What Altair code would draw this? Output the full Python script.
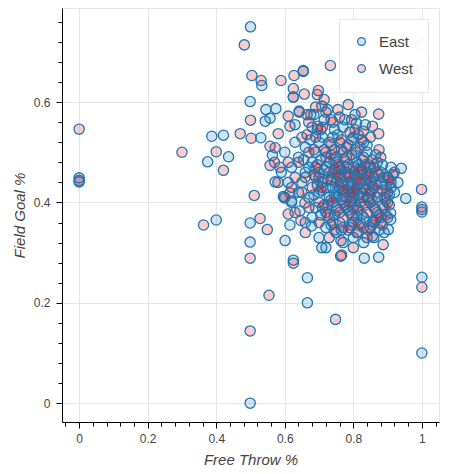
import altair as alt
import pandas as pd

# ---- data ----
east_ft = [0.50, 0.533, 0.654, 0.499, 0.545, 0.574, 0.543, 0.557, 0.642, 0.676,
           0.387, 0.421, 0.530, 0.564, 0.436, 0.375, 0.572, 0.599, 0.620, 0.400,
           0.499, 0.615, 0.644, 0.678, 0.499, 0.601, 0.708, 0.625, 0.666, 0.666,
           0.499, 1.0, 1.0, 0.832, 0.874, 0.809, 0.840, 0.940, 0.953, 0.909,
           0.909, 0.902, 0.814, 0.858, 0.0, 0.0, 1.0, 1.0, 0.630, 0.596,
           0.625,
           0.72, 0.74, 0.76, 0.78, 0.80, 0.82, 0.84, 0.86, 0.88, 0.73,
           0.75, 0.77, 0.79, 0.81, 0.83, 0.85, 0.87, 0.89, 0.71, 0.70,
           0.69, 0.68, 0.72, 0.75, 0.78, 0.81, 0.84, 0.87, 0.90, 0.91,
           0.90, 0.88, 0.85, 0.82, 0.79, 0.76, 0.73, 0.71, 0.74, 0.77,
           0.80, 0.83, 0.70, 0.68, 0.66, 0.67, 0.65, 0.69, 0.72, 0.75,
           0.80, 0.86, 0.89, 0.92, 0.93, 0.91, 0.76, 0.79, 0.82, 0.84,
           0.86, 0.78, 0.81, 0.74, 0.77, 0.80, 0.83, 0.85, 0.73, 0.70,
           0.88, 0.87, 0.81, 0.78, 0.75, 0.72, 0.69, 0.71, 0.64, 0.66,
           0.63, 0.62, 0.67, 0.64, 0.61, 0.68, 0.66, 0.70, 0.72, 0.77,
           0.83, 0.60, 0.59, 0.62,
           0.715, 0.735, 0.755, 0.775, 0.795, 0.815, 0.835, 0.855, 0.875, 0.895,
           0.725, 0.745, 0.765, 0.785, 0.805, 0.825, 0.845, 0.865, 0.885, 0.905,
           0.745, 0.765, 0.785, 0.805, 0.825, 0.845, 0.865, 0.885, 0.735, 0.755,
           0.795, 0.815, 0.705, 0.695, 0.685, 0.705, 0.735, 0.765, 0.795, 0.855,
           0.875, 0.895, 0.915, 0.805, 0.785, 0.825, 0.765, 0.745, 0.845, 0.815,
           0.675, 0.695, 0.715, 0.655, 0.775, 0.805, 0.835, 0.745, 0.685, 0.725]
east_fg = [0.75, 0.633, 0.663, 0.601, 0.585, 0.587, 0.562, 0.568, 0.580, 0.575,
           0.532, 0.534, 0.529, 0.494, 0.491, 0.481, 0.441, 0.409, 0.403, 0.365,
           0.359, 0.355, 0.383, 0.353, 0.321, 0.324, 0.310, 0.285, 0.250, 0.200,
           0.0, 0.251, 0.100, 0.289, 0.291, 0.558, 0.514, 0.468, 0.408, 0.379,
           0.366, 0.346, 0.340, 0.363, 0.449, 0.441, 0.391, 0.381, 0.555, 0.412,
           0.610,
           0.47, 0.45, 0.43, 0.46, 0.44, 0.42, 0.45, 0.43, 0.46, 0.41,
           0.39, 0.40, 0.38, 0.39, 0.37, 0.40, 0.38, 0.41, 0.44, 0.42,
           0.45, 0.48, 0.50, 0.49, 0.51, 0.48, 0.50, 0.48, 0.45, 0.43,
           0.40, 0.36, 0.35, 0.36, 0.35, 0.36, 0.37, 0.39, 0.53, 0.55,
           0.53, 0.52, 0.52, 0.55, 0.51, 0.47, 0.44, 0.39, 0.35, 0.34,
           0.33, 0.33, 0.34, 0.42, 0.44, 0.47, 0.47, 0.42, 0.46, 0.41,
           0.45, 0.49, 0.50, 0.43, 0.44, 0.41, 0.43, 0.47, 0.48, 0.46,
           0.44, 0.41, 0.37, 0.39, 0.41, 0.43, 0.50, 0.53, 0.49, 0.46,
           0.52, 0.47, 0.41, 0.42, 0.44, 0.37, 0.36, 0.33, 0.31, 0.32,
           0.32, 0.50, 0.46, 0.40,
           0.465, 0.445, 0.425, 0.455, 0.435, 0.415, 0.445, 0.425, 0.455, 0.435,
           0.395, 0.375, 0.405, 0.385, 0.395, 0.375, 0.405, 0.385, 0.395, 0.415,
           0.485, 0.505, 0.475, 0.505, 0.485, 0.475, 0.495, 0.475, 0.515, 0.535,
           0.525, 0.535, 0.485, 0.435, 0.415, 0.375, 0.355, 0.345, 0.355, 0.355,
           0.345, 0.375, 0.455, 0.455, 0.435, 0.455, 0.465, 0.415, 0.435, 0.475,
           0.525, 0.545, 0.565, 0.485, 0.565, 0.575, 0.555, 0.545, 0.575, 0.585]

west_ft = [0.482, 1.0, 1.0, 0.504, 0.531, 0.589, 0.627, 0.654, 0.733, 0.625,
           0.657, 0.625, 0.698, 0.708, 0.500, 0.610, 0.642, 0.696, 0.470, 0.502,
           0.581, 0.615, 0.557, 0.572, 0.557, 0.586, 0.400, 0.421, 0.511, 0.615,
           0.659, 0.363, 0.528, 0.549, 0.610, 0.647, 0.499, 0.625, 0.763, 0.554,
           0.748, 0.499, 1.0, 0.800, 0.887, 0.764, 0.824, 0.874, 0.856, 0.874,
           0.829, 0.999, 1.0, 0.856, 0.766, 0.0, 0.0, 0.300,
           0.73, 0.75, 0.77, 0.79, 0.81, 0.83, 0.85, 0.87, 0.89, 0.74,
           0.76, 0.78, 0.80, 0.82, 0.84, 0.86, 0.88, 0.90, 0.71, 0.70,
           0.69, 0.72, 0.75, 0.77, 0.80, 0.83, 0.86, 0.88, 0.76, 0.79,
           0.82, 0.85, 0.73, 0.71, 0.74, 0.69, 0.67, 0.68, 0.66, 0.70,
           0.72, 0.74, 0.77, 0.80, 0.83, 0.86, 0.89, 0.91, 0.79, 0.81,
           0.84, 0.76, 0.78, 0.82, 0.80, 0.85, 0.87, 0.75, 0.79, 0.77,
           0.81, 0.84, 0.73, 0.70, 0.67, 0.65, 0.63, 0.64, 0.61, 0.65,
           0.67, 0.72, 0.69, 0.76, 0.62, 0.60, 0.63, 0.66, 0.58, 0.57,
           0.92, 0.90,
           0.725, 0.745, 0.765, 0.785, 0.805, 0.825, 0.845, 0.865, 0.885, 0.905,
           0.735, 0.755, 0.775, 0.795, 0.815, 0.835, 0.855, 0.875, 0.895, 0.725,
           0.735, 0.755, 0.775, 0.795, 0.815, 0.835, 0.855, 0.875, 0.765, 0.785,
           0.805, 0.825, 0.745, 0.715, 0.695, 0.685, 0.705, 0.715, 0.745, 0.785,
           0.815, 0.845, 0.865, 0.885, 0.905, 0.795, 0.775, 0.815, 0.835, 0.755,
           0.665, 0.705, 0.735, 0.685, 0.755, 0.795, 0.665, 0.715, 0.785, 0.695]
west_fg = [0.714, 0.714, 0.663, 0.653, 0.643, 0.643, 0.653, 0.661, 0.673, 0.627,
           0.616, 0.610, 0.623, 0.592, 0.564, 0.572, 0.582, 0.552, 0.537, 0.528,
           0.537, 0.552, 0.512, 0.509, 0.474, 0.470, 0.501, 0.464, 0.414, 0.419,
           0.399, 0.355, 0.368, 0.346, 0.377, 0.364, 0.289, 0.279, 0.293, 0.215,
           0.167, 0.144, 0.231, 0.310, 0.316, 0.324, 0.580, 0.576, 0.552, 0.537,
           0.542, 0.426, 0.386, 0.333, 0.295, 0.546, 0.444, 0.500,
           0.46, 0.44, 0.42, 0.45, 0.43, 0.41, 0.44, 0.42, 0.45, 0.40,
           0.38, 0.41, 0.39, 0.40, 0.38, 0.39, 0.37, 0.42, 0.43, 0.45,
           0.47, 0.49, 0.48, 0.50, 0.47, 0.49, 0.47, 0.49, 0.52, 0.54,
           0.51, 0.53, 0.52, 0.55, 0.56, 0.53, 0.50, 0.43, 0.45, 0.40,
           0.38, 0.36, 0.35, 0.36, 0.35, 0.36, 0.39, 0.44, 0.43, 0.45,
           0.46, 0.45, 0.47, 0.44, 0.42, 0.42, 0.46, 0.46, 0.40, 0.37,
           0.34, 0.33, 0.33, 0.36, 0.39, 0.42, 0.45, 0.48, 0.48, 0.53,
           0.56, 0.58, 0.59, 0.57, 0.43, 0.41, 0.38, 0.34, 0.44, 0.48,
           0.46, 0.37,
           0.445, 0.465, 0.435, 0.455, 0.425, 0.465, 0.455, 0.435, 0.425, 0.445,
           0.405, 0.385, 0.395, 0.375, 0.385, 0.395, 0.405, 0.375, 0.405, 0.375,
           0.495, 0.475, 0.485, 0.495, 0.465, 0.475, 0.485, 0.505, 0.525, 0.515,
           0.545, 0.525, 0.505, 0.505, 0.475, 0.455, 0.425, 0.395, 0.345, 0.345,
           0.355, 0.345, 0.365, 0.355, 0.395, 0.415, 0.425, 0.445, 0.425, 0.455,
           0.535, 0.545, 0.565, 0.505, 0.585, 0.565, 0.575, 0.605, 0.595, 0.615]

teams = ["East", "West"]
fill_colors = ["rgba(31,119,180,0.2)", "rgba(255,0,0,0.2)"]

x_ticks = [-0.04, 0, 0.04, 0.08, 0.12, 0.16, 0.2, 0.24, 0.28, 0.32, 0.36, 0.4,
           0.44, 0.48, 0.52, 0.56, 0.6, 0.64, 0.68, 0.72, 0.76, 0.8, 0.84, 0.88,
           0.92, 0.96, 1, 1.04]
y_ticks = [0, 0.04, 0.08, 0.12, 0.16, 0.2, 0.24, 0.28, 0.32, 0.36, 0.4, 0.44,
           0.48, 0.52, 0.56, 0.6, 0.64, 0.68, 0.72, 0.76]

rows = ([{"team": "East", "ft": a, "fg": b} for a, b in zip(east_ft, east_fg)] +
        [{"team": "West", "ft": a, "fg": b} for a, b in zip(west_ft, west_fg)])
df = pd.DataFrame(rows)
df["order"] = range(len(df))

major = "abs(datum.value*5 - round(datum.value*5)) < 0.001"

def make_axis(title, values, label_pad, title_pad):
    return alt.Axis(
        title=title,
        values=values,
        labelExpr=f"({major}) ? format(datum.value, '~g') : ''",
        labelOverlap=False,
        labelFlush=False,
        tickSize={"condition": {"test": major, "value": 6}, "value": 4},
        gridOpacity={"condition": {"test": major, "value": 1}, "value": 0},
        gridColor="#e5e5e5",
        domainColor="#000000",
        tickColor="#000000",
        labelColor="#444444",
        labelFontSize=12,
        labelFont="Liberation Sans",
        labelPadding=label_pad,
        titleFont="Liberation Sans",
        titleFontSize=15,
        titleFontStyle="italic",
        titleFontWeight="normal",
        titleColor="#444444",
        titlePadding=title_pad,
    )

chart = alt.Chart(df).mark_point(
    shape="circle", filled=True, size=105, fillOpacity=1, opacity=1,
    stroke="#1f77b4", strokeWidth=1.3, strokeOpacity=1
).encode(
    x=alt.X("ft:Q", scale=alt.Scale(domain=[-0.05, 1.05], nice=False, zero=False),
            axis=make_axis("Free Throw %", x_ticks, 5, 8)),
    y=alt.Y("fg:Q", scale=alt.Scale(domain=[-0.0375, 0.7875], nice=False, zero=False),
            axis=make_axis("Field Goal %", y_ticks, 6, 6)),
    fill=alt.Fill("team:N", scale=alt.Scale(domain=teams, range=fill_colors),
                  legend=alt.Legend(
                      title=None, orient="none", legendX=277, legendY=11,
                      padding=15, rowPadding=11, labelFontSize=15,
                      labelFont="Liberation Sans", labelColor="#444444",
                      labelOffset=10, symbolSize=60, symbolStrokeWidth=1.3,
                      symbolStrokeColor="#1f77b4", symbolType="circle",
                      strokeColor="#e5e5e5", fillColor="rgba(255,255,255,0.95)",
                      cornerRadius=0)),
    order=alt.Order("order:Q"),
).properties(
    width=377, height=414,
    padding={"left": 54, "top": 0, "right": 20, "bottom": 50},
    autosize=alt.AutoSizeParams(type="none"),
).configure_view(stroke="#e5e5e5")

chart.save("out.html", embed_options={"renderer": "svg", "actions": False})
